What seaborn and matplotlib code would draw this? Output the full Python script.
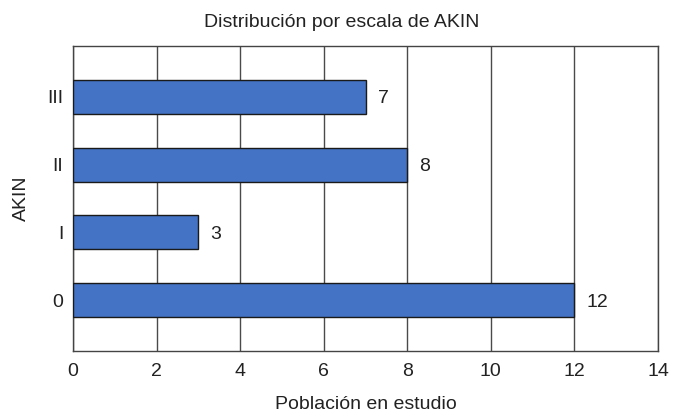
import matplotlib
matplotlib.use("Agg")
import matplotlib.pyplot as plt
import seaborn as sns
import pandas as pd

categories = ["III", "II", "I", "0"]
values = [7, 8, 3, 12]
x_ticks = [0, 2, 4, 6, 8, 10, 12, 14]

sns.set_theme(style="white")
plt.rcParams['font.family'] = ['Liberation Sans', 'DejaVu Sans']

df = pd.DataFrame({"AKIN": categories, "n": values})

W, H = 681, 416
fig = plt.figure(figsize=(W/100, H/100), dpi=100)
ax = fig.add_axes([73/W, 1-351/H, (658-73)/W, (351-46)/H])

sns.barplot(data=df, y="AKIN", x="n", order=categories, orient="h",
            color="#4472C4", saturation=1, width=0.5,
            edgecolor="#1a1a1a", linewidth=1.0, ax=ax, zorder=3)

fs = 14
tc = "#222222"
ax.set_xlim(0, 14)
ax.set_ylim(3.75, -0.75)
ax.set_xticks(x_ticks)
ax.set_xticklabels([str(t) for t in x_ticks], fontsize=fs, color=tc)
ax.tick_params(axis="y", labelsize=fs, labelcolor=tc, length=0, pad=7)
ax.tick_params(axis="x", length=0, pad=8.5)
ax.xaxis.grid(True, color="#4a4a4a", linewidth=1.0, zorder=0)
ax.yaxis.grid(False)
for s in ax.spines.values():
    s.set_color("#444444")
    s.set_linewidth(1.0)

for i, v in enumerate(values):
    ax.text(v + 0.29, i, str(v), va="center_baseline", ha="left", fontsize=fs, color=tc)

ax.set_xlabel("Población en estudio", fontsize=fs, color=tc, labelpad=11.5)
ax.set_ylabel("")
fig.text(21/W, 1-198.5/H, "AKIN", rotation=90, ha="center", va="center",
         fontsize=fs, color=tc)
fig.text(341.5/W, 1-26.7/H, "Distribución por escala de AKIN", ha="center", va="baseline",
         fontsize=fs, color=tc)

fig.savefig("out.png", dpi=100)
